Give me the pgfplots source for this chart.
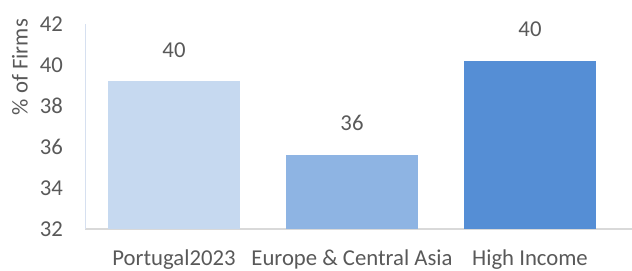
\documentclass[border=0pt]{standalone}
\usepackage{pgfplots}
\pgfplotsset{compat=1.18}
\usepackage{fontspec}
\setmainfont{Carlito}
\definecolor{txt}{RGB}{89,89,89}
\definecolor{cA}{RGB}{198,217,240}
\definecolor{cB}{RGB}{142,180,227}
\definecolor{cC}{RGB}{85,142,213}
\definecolor{yax}{RGB}{214,224,240}
\definecolor{xax}{RGB}{217,217,217}
\begin{document}
\fontsize{22.8}{27}\selectfont\color{txt}
\begin{tikzpicture}
\path[use as bounding box] (0,0) rectangle (632bp,271bp);
\begin{axis}[
  at={(85bp,42bp)}, anchor=south west,
  scale only axis, width=534bp, height=205bp,
  xmin=-0.5, xmax=2.5, ymin=32, ymax=42,
  ytick={32,34,...,42},
  xtick={0,1,2},
  xticklabels={Portugal2023, Europe \& Central Asia, High Income},
  ybar, bar width=132bp,
  axis x line*=bottom, axis y line*=left,
  x axis line style={draw=xax, line width=1.3bp, -, shorten >=-13bp},
  y axis line style={draw=yax, line width=1bp, -},
  major tick length=0pt,
  tick style={draw=none},
  /pgf/number format/assume math mode=true,
  yticklabel style={anchor=east, inner sep=0pt, xshift=-22bp, text=txt},
  xticklabel style={anchor=base, inner sep=0pt, yshift=-36bp, text=txt},
  ylabel={\% of Firms},
  every axis y label/.style={at={(axis description cs:-0.1217,0.79)}, rotate=90, anchor=center, text=txt},
  point meta=explicit symbolic,
  nodes near coords,
  nodes near coords style={inner sep=0pt, yshift=24bp, text=txt},
  clip=false,
]
\addplot[fill=cA, draw=none, bar shift=0pt] coordinates {(0,39.2) [40]};
\addplot[fill=cB, draw=none, bar shift=0pt] coordinates {(1,35.6) [36]};
\addplot[fill=cC, draw=none, bar shift=0pt] coordinates {(2,40.2) [40]};
\end{axis}
\end{tikzpicture}
\end{document}
